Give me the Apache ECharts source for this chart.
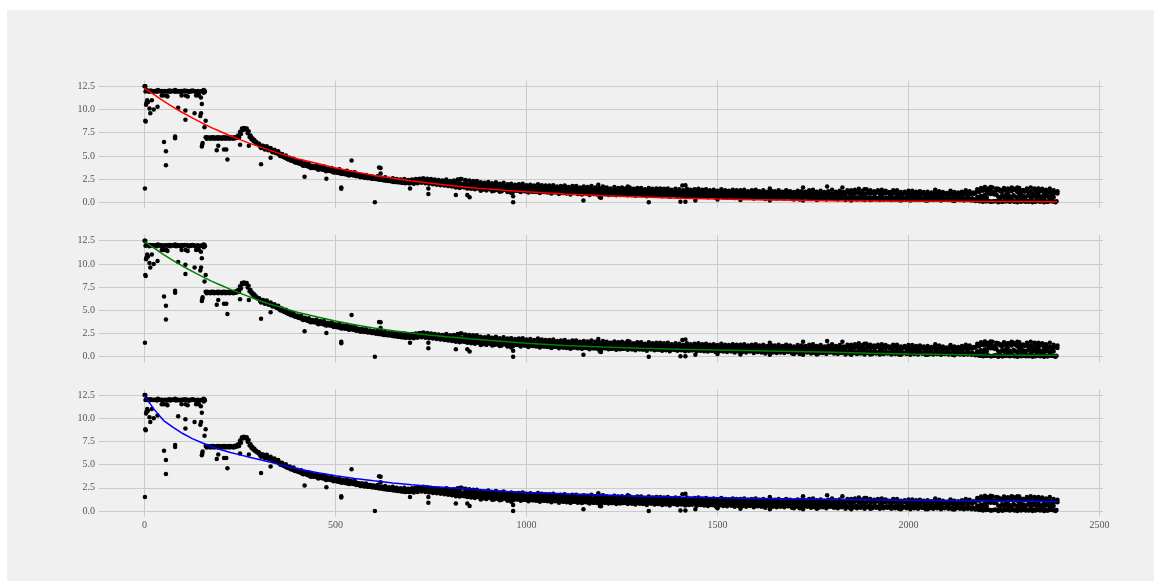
<!DOCTYPE html>
<html>
<head>
<meta charset="utf-8">
<script src="https://cdn.jsdelivr.net/npm/echarts@6/dist/echarts.min.js"></script>
<style>
  html, body { margin: 0; padding: 0; background: #ffffff; width: 1154px; height: 581px; overflow: hidden; }
  #frame { position: absolute; left: 7px; top: 10px; right: 0; bottom: 0; background: #f0f0f0; }
  #chart { position: absolute; left: 0; top: 0; width: 1154px; height: 581px; }
</style>
</head>
<body>
<div id="frame"></div>
<div id="chart"></div>
<script>
// Measurements sampled every STEP time units; upper core row at x = i*STEP
const STEP = 5;
const coreUpper = [
  12.5, 12.1, 12.0, 12.05, 12.0, 11.95, 12.0, 12.1, 12.0, 12.0, 11.5, 11.95, 12.0, 12.05, 12.0, 12.0, 12.1, 12.0, 11.95, 12.0,
  12.0, 12.05, 12.0, 11.9, 12.0, 12.05, 12.0, 11.5, 12.0, 11.9, 12.0, 12.1, 7.0, 7.0, 6.95, 7.0, 7.0, 6.95, 7.0, 7.0,
  6.95, 7.0, 7.0, 6.95, 7.0, 7.0, 6.95, 7.0, 7.05, 7.2, 7.6, 7.95, 8.0, 7.85, 7.45, 7.05, 6.8, 6.6, 6.45, 6.3,
  6.2, 6.1, 6.05, 5.95, 5.9, 5.8, 5.75, 5.6, 5.55, 5.45, 5.3, 5.2, 5.05, 4.95, 4.85, 4.75, 4.7, 4.55, 4.5, 4.4,
  4.35, 4.25, 4.2, 4.15, 4.05, 4.0, 3.95, 3.95, 3.85, 3.8, 3.8, 3.75, 3.7, 3.65, 3.65, 3.6, 3.55, 3.5, 3.45, 3.45,
  3.4, 3.35, 3.3, 3.3, 3.25, 3.2, 3.2, 3.15, 3.1, 3.1, 3.05, 3.05, 3.0, 2.95, 2.95, 2.9, 2.85, 2.8, 2.8, 2.75,
  2.7, 2.65, 2.65, 2.6, 2.55, 2.55, 2.5, 2.45, 2.45, 2.4, 2.4, 2.35, 2.35, 2.3, 2.3, 2.3, 2.25, 2.25, 2.3, 2.3,
  2.35, 2.4, 2.4, 2.45, 2.45, 2.5, 2.45, 2.4, 2.4, 2.35, 2.3, 2.3, 2.25, 2.2, 2.25, 2.2, 2.15, 2.2, 2.15, 2.1,
  2.1, 2.15, 2.05, 2.1, 2.0, 2.05, 2.0, 1.95, 2.05, 1.95, 1.9, 2.0, 1.9, 1.95, 1.85, 1.9, 1.85, 1.9, 1.8, 1.85,
  1.8, 1.85, 1.75, 1.8, 1.8, 1.75, 1.7, 1.8, 1.75, 1.7, 1.7, 1.75, 1.65, 1.7, 1.7, 1.65, 1.6, 1.7, 1.65, 1.6,
  1.6, 1.65, 1.55, 1.6, 1.6, 1.55, 1.5, 1.6, 1.55, 1.5, 1.55, 1.5, 1.45, 1.55, 1.5, 1.45, 1.5, 1.45, 1.4, 1.5,
  1.45, 1.4, 1.45, 1.4, 1.45, 1.35, 1.4, 1.45, 1.35, 1.4, 1.35, 1.4, 1.3, 1.4, 1.35, 1.3, 1.35, 1.3, 1.35, 1.3,
  1.3, 1.35, 1.25, 1.3, 1.3, 1.25, 1.3, 1.25, 1.2, 1.3, 1.25, 1.2, 1.25, 1.3, 1.2, 1.25, 1.2, 1.25, 1.2, 1.2,
  1.25, 1.2, 1.15, 1.2, 1.25, 1.15, 1.2, 1.15, 1.2, 1.1, 1.2, 1.15, 1.1, 1.2, 1.15, 1.1, 1.15, 1.1, 1.15, 1.1,
  1.1, 1.15, 1.05, 1.1, 1.15, 1.05, 1.1, 1.05, 1.1, 1.0, 1.1, 1.05, 1.1, 1.0, 1.05, 1.1, 1.0, 1.05, 1.0, 1.05,
  1.05, 1.0, 1.1, 1.0, 1.05, 0.95, 1.05, 1.0, 1.1, 1.0, 0.95, 1.05, 1.0, 0.95, 1.05, 1.0, 0.95, 1.0, 1.05, 0.95,
  1.0, 0.95, 1.05, 0.95, 1.0, 0.9, 1.0, 1.05, 0.95, 0.9, 1.0, 0.95, 1.05, 0.9, 1.0, 0.95, 0.9, 1.0, 0.95, 0.9,
  0.95, 1.0, 0.9, 0.95, 1.05, 0.9, 0.95, 0.85, 1.0, 0.9, 0.95, 0.9, 1.0, 0.85, 0.95, 0.9, 1.0, 0.9, 0.85, 0.95,
  0.9, 0.95, 1.05, 0.9, 0.85, 1.0, 0.95, 0.9, 1.1, 0.95, 0.85, 0.9, 1.0, 1.15, 0.95, 0.9, 1.05, 0.85, 0.95, 1.1,
  0.95, 1.05, 0.9, 1.0, 1.15, 0.9, 0.85, 1.0, 0.95, 1.1, 0.9, 0.85, 0.95, 1.05, 0.9, 0.85, 0.95, 0.9, 1.0, 0.85,
  0.9, 0.85, 0.95, 0.8, 0.9, 0.85, 0.8, 0.95, 0.85, 0.8, 0.9, 0.85, 0.8, 0.9, 0.85, 0.8, 0.9, 0.85, 0.8, 0.85,
  0.85, 0.8, 0.9, 0.8, 0.85, 0.9, 0.8, 0.85, 0.8, 0.9, 0.85, 0.8, 0.95, 0.85, 0.9, 1.0, 1.2, 1.1, 1.3, 1.25,
  1.35, 1.2, 1.5, 1.3, 1.15, 1.05, 1.3, 1.45, 1.2, 1.1, 1.35, 1.25, 1.0, 1.4, 1.2, 1.5, 1.3, 1.1, 1.25, 1.0,
  1.3, 1.15, 1.4, 1.05, 1.2, 0.95, 1.35, 1.1, 0.9, 1.2, 1.3, 1.0, 1.15, 0.95, 1.1, 1.0, 0.9, 1.05, 0.95
];
// lower core row at x = i*STEP + STEP/2
const coreLower = [
  11.95, 12.0, 11.9, 12.0, 11.95, 12.0, 11.9, 12.0, 11.95, 11.9, 12.0, 11.5, 11.95, 11.9, 12.0, 11.95, 11.9, 12.0, 11.9, 11.95,
  11.95, 11.5, 12.0, 11.9, 11.95, 12.0, 11.9, 11.95, 11.5, 11.3, 11.95, 12.0, 6.85, 6.9, 6.85, 6.9, 6.85, 6.9, 6.85, 6.9,
  6.85, 6.9, 6.85, 6.9, 6.85, 6.9, 6.85, 6.9, 6.95, 7.0, 7.35, 7.8, 7.95, 7.95, 7.65, 7.2, 6.9, 6.7, 6.5, 6.3,
  6.0, 5.95, 5.85, 5.8, 5.7, 5.65, 5.55, 5.5, 5.35, 5.25, 5.15, 5.0, 4.9, 4.8, 4.7, 4.6, 4.5, 4.45, 4.35, 4.3,
  4.2, 4.15, 4.05, 4.0, 3.95, 3.85, 3.8, 3.75, 3.7, 3.7, 3.6, 3.6, 3.55, 3.5, 3.45, 3.4, 3.4, 3.35, 3.3, 3.25,
  3.2, 3.15, 3.15, 3.1, 3.05, 3.0, 3.0, 2.95, 2.95, 2.9, 2.85, 2.85, 2.8, 2.75, 2.75, 2.7, 2.65, 2.65, 2.6, 2.55,
  2.55, 2.5, 2.45, 2.45, 2.4, 2.35, 2.35, 2.3, 2.3, 2.25, 2.2, 2.2, 2.15, 2.15, 2.1, 2.1, 2.05, 2.1, 2.05, 2.1,
  2.15, 2.2, 2.25, 2.3, 2.35, 2.3, 2.25, 2.2, 2.2, 2.15, 2.1, 2.05, 2.05, 2.0, 2.0, 1.95, 1.95, 1.9, 1.85, 1.9,
  1.8, 1.75, 1.85, 1.7, 1.75, 1.65, 1.7, 1.6, 1.7, 1.55, 1.65, 1.6, 1.5, 1.6, 1.55, 1.45, 1.6, 1.5, 1.45, 1.55,
  1.5, 1.4, 1.5, 1.35, 1.45, 1.4, 1.3, 1.45, 1.35, 1.3, 1.4, 1.3, 1.35, 1.25, 1.35, 1.3, 1.2, 1.3, 1.25, 1.2,
  1.25, 1.2, 1.3, 1.15, 1.2, 1.25, 1.1, 1.2, 1.15, 1.1, 1.2, 1.1, 1.15, 1.05, 1.15, 1.1, 1.05, 1.15, 1.1, 1.0,
  1.1, 1.05, 1.0, 1.1, 1.0, 1.05, 0.95, 1.05, 1.0, 0.95, 1.05, 1.0, 0.9, 1.0, 0.95, 0.9, 1.0, 0.95, 0.9, 0.95,
  0.95, 0.9, 1.0, 0.9, 0.85, 0.95, 0.9, 0.85, 0.95, 0.9, 0.85, 0.9, 0.95, 0.85, 0.9, 0.8, 0.9, 0.85, 0.9, 0.8,
  0.85, 0.9, 0.8, 0.85, 0.9, 0.8, 0.85, 0.75, 0.85, 0.8, 0.85, 0.75, 0.8, 0.85, 0.75, 0.8, 0.85, 0.75, 0.8, 0.75,
  0.8, 0.75, 0.85, 0.7, 0.8, 0.75, 0.7, 0.8, 0.75, 0.7, 0.8, 0.7, 0.75, 0.8, 0.7, 0.75, 0.7, 0.65, 0.75, 0.7,
  0.7, 0.75, 0.65, 0.7, 0.75, 0.65, 0.7, 0.6, 0.7, 0.75, 0.65, 0.7, 0.6, 0.7, 0.65, 0.6, 0.7, 0.65, 0.6, 0.7,
  0.65, 0.6, 0.7, 0.55, 0.65, 0.6, 0.7, 0.55, 0.65, 0.6, 0.55, 0.65, 0.6, 0.7, 0.55, 0.6, 0.65, 0.55, 0.6, 0.65,
  0.6, 0.55, 0.65, 0.5, 0.6, 0.55, 0.65, 0.6, 0.5, 0.6, 0.55, 0.65, 0.5, 0.6, 0.55, 0.5, 0.6, 0.55, 0.6, 0.5,
  0.55, 0.6, 0.5, 0.55, 0.45, 0.6, 0.5, 0.55, 0.45, 0.6, 0.5, 0.4, 0.55, 0.5, 0.45, 0.55, 0.5, 0.4, 0.5, 0.55,
  0.5, 0.45, 0.55, 0.4, 0.5, 0.45, 0.55, 0.4, 0.5, 0.45, 0.4, 0.5, 0.45, 0.55, 0.4, 0.45, 0.5, 0.4, 0.45, 0.5,
  0.45, 0.5, 0.4, 0.45, 0.5, 0.4, 0.45, 0.35, 0.45, 0.5, 0.4, 0.45, 0.35, 0.45, 0.4, 0.5, 0.4, 0.45, 0.35, 0.4,
  0.45, 0.4, 0.35, 0.45, 0.4, 0.5, 0.35, 0.4, 0.45, 0.35, 0.4, 0.45, 0.35, 0.4, 0.3, 0.25, 0.2, 0.15, 0.1, 0.15,
  0.1, 0.15, 0.1, 0.05, 0.1, 0.15, 0.1, 0.2, 0.1, 0.05, 0.15, 0.1, 0.2, 0.1, 0.15, 0.05, 0.1, 0.2, 0.1, 0.15,
  0.1, 0.05, 0.15, 0.1, 0.2, 0.1, 0.05, 0.15, 0.1, 0.2, 0.1, 0.15, 0.05, 0.1, 0.15, 0.1, 0.05, 0.1
];
// upper edge of the spread, x = SPREAD_START + i*SPREAD_STEP
const SPREAD_START = 300;
const SPREAD_STEP = 10;
const spreadHigh = [
  6.3, 6.1, 6.05, 5.85, 5.65, 5.5, 5.2, 5.05, 4.8, 4.7, 4.45, 4.4, 4.2, 4.15, 3.95, 4.0, 3.85, 3.85, 3.65, 3.7,
  3.5, 3.55, 3.35, 3.4, 3.25, 3.25,
  2.95, 2.9, 2.95, 2.8, 2.75, 2.8, 2.65, 2.7, 2.55, 2.6,
  2.5, 2.45, 2.5, 2.4, 2.45, 2.5, 2.55, 2.6, 2.55, 2.5,
  2.45, 2.4, 2.35, 2.45, 2.3, 2.35, 2.4, 2.5, 2.3, 2.35,
  2.2, 2.3, 2.15, 2.1, 2.2, 2.05, 2.15, 2.0, 2.1, 1.95,
  2.0, 1.9, 1.95, 2.0, 1.85, 1.9, 1.8, 1.95, 1.85, 1.75,
  1.8, 1.85, 1.7, 1.75, 1.8, 1.65, 1.75, 1.7, 1.6, 1.7,
  1.65, 1.75, 1.6, 1.55, 1.7, 1.6, 1.5, 1.65, 1.55, 1.6,
  1.5, 1.6, 1.45, 1.55, 1.5, 1.4, 1.55, 1.45, 1.5, 1.4,
  1.45, 1.5, 1.35, 1.45, 1.4, 1.3, 1.45, 1.35, 1.4, 1.3,
  1.35, 1.4, 1.3, 1.35, 1.25, 1.4, 1.3, 1.25, 1.35, 1.3,
  1.25, 1.35, 1.2, 1.3, 1.25, 1.2, 1.3, 1.15, 1.25, 1.2,
  1.3, 1.15, 1.25, 1.2, 1.1, 1.25, 1.2, 1.15, 1.3, 1.2,
  1.15, 1.25, 1.1, 1.2, 1.35, 1.15, 1.25, 1.1, 1.3, 1.2,
  1.35, 1.15, 1.25, 1.4, 1.1, 1.2, 1.3, 1.15, 1.25, 1.1,
  1.2, 1.3, 1.1, 1.15, 1.25, 1.05, 1.15, 1.2, 1.1, 1.15,
  1.05, 1.15, 1.2, 1.1, 1.0, 1.15, 1.1, 1.05, 1.15, 1.1,
  1.2, 1.05, 1.4, 1.55, 1.65, 1.45, 1.6, 1.5, 1.35, 1.55,
  1.45, 1.6, 1.4, 1.55, 1.3, 1.5, 1.6, 1.4, 1.5, 1.45,
  1.35, 1.5, 1.3, 1.2
];
// lower edge of the spread, x = SPREAD_START + SPREAD_STEP/2 + i*SPREAD_STEP
const spreadLow = [
  5.85, 5.7, 5.6, 5.4, 5.3, 5.0, 4.9, 4.65, 4.55, 4.3, 4.2, 3.95, 3.95, 3.7, 3.75, 3.5, 3.55, 3.35, 3.4, 3.2,
  3.2, 3.05, 3.1, 2.9, 2.95, 2.8,
  2.7, 2.65, 2.6, 2.55, 2.5, 2.45, 2.4, 2.35, 2.3, 2.25,
  2.2, 2.15, 2.1, 2.05, 2.0, 2.05, 2.1, 2.05, 2.0, 1.95,
  1.9, 1.85, 1.8, 1.75, 1.7, 1.6, 1.55, 1.65, 1.5, 1.45,
  1.4, 1.5, 1.35, 1.3, 1.4, 1.25, 1.3, 1.2, 1.35, 1.2,
  1.15, 1.25, 1.1, 1.2, 1.05, 1.15, 1.1, 1.0, 1.1, 1.05,
  0.95, 1.05, 0.9, 1.0, 0.95, 0.85, 1.0, 0.9, 0.85, 0.95,
  0.8, 0.9, 0.85, 0.75, 0.9, 0.8, 0.85, 0.75, 0.8, 0.85,
  0.75, 0.8, 0.7, 0.8, 0.75, 0.65, 0.8, 0.7, 0.75, 0.65,
  0.7, 0.6, 0.75, 0.65, 0.7, 0.6, 0.65, 0.7, 0.55, 0.65,
  0.6, 0.55, 0.65, 0.5, 0.6, 0.55, 0.5, 0.6, 0.45, 0.55,
  0.5, 0.45, 0.55, 0.4, 0.5, 0.45, 0.35, 0.5, 0.45, 0.4,
  0.45, 0.4, 0.5, 0.35, 0.45, 0.3, 0.4, 0.45, 0.35, 0.4,
  0.35, 0.4, 0.3, 0.45, 0.35, 0.3, 0.4, 0.25, 0.35, 0.4,
  0.3, 0.35, 0.25, 0.4, 0.3, 0.35, 0.25, 0.3, 0.35, 0.25,
  0.3, 0.25, 0.35, 0.3, 0.2, 0.3, 0.25, 0.35, 0.2, 0.3,
  0.25, 0.3, 0.2, 0.3, 0.25, 0.2, 0.3, 0.25, 0.2, 0.25,
  0.2, 0.15, 0.1, 0.05, 0.1, 0.05, 0.1, 0.0, 0.05, 0.1,
  0.05, 0.1, 0.0, 0.05, 0.1, 0.05, 0.0, 0.1, 0.05, 0.0,
  0.05, 0.1, 0.0
];
// middle row of the last stretch, x = TAIL_START + i*STEP
const TAIL_START = 2180;
const tailMiddle = [
  0.6, 0.5, 0.7, 0.45, 0.8, 0.55, 0.95, 0.9, 0.95, 0.85, 0.85, 0.6, 0.45, 0.7, 0.55, 0.8, 0.5, 0.65, 0.4, 0.75,
  0.6, 0.5, 0.85, 0.55, 0.7, 0.45, 0.65, 0.8, 0.5, 0.6, 0.75, 0.45, 0.7, 0.55, 0.65, 0.5, 0.8, 0.6, 0.45, 0.7, 0.55
];
// scattered readings away from the main trend, [time, value]
const strayPoints = [
  [1, 1.5], [2, 8.8], [3, 8.7], [4, 10.5], [5, 10.7], [7, 11.0], [9, 10.8], [13, 10.1], [15, 9.6], [19, 11.0],
  [24, 10.0], [34, 10.3], [51, 6.5], [56, 5.5], [56, 4.0], [80, 7.1], [80, 6.9], [88, 10.2], [107, 8.9], [107, 9.9],
  [131, 9.6], [146, 9.3], [148, 9.6], [150, 10.6], [150, 6.0], [151, 6.2], [152, 6.4], [157, 8.1], [160, 8.8],
  [2, 12.5], [45, 11.5], [60, 11.4], [97, 11.5], [113, 11.4], [140, 11.6], [155, 11.8], [158, 11.9],
  [189, 5.6], [193, 6.1], [208, 5.7], [214, 5.7], [217, 4.6], [250, 6.2], [273, 6.1], [305, 4.1], [330, 4.8],
  [419, 2.75], [476, 2.55], [515, 1.6], [515, 1.45], [542, 4.5], [603, 0.0], [614, 3.75], [618, 3.7], [618, 3.1],
  [695, 1.5], [743, 1.5], [743, 0.9], [815, 0.8], [820, 2.45], [827, 2.5], [845, 0.8], [851, 0.55], [965, 0.0],
  [965, 0.65], [1149, 0.2], [1188, 1.9], [1192, 0.55], [1195, 0.5], [1265, 1.7], [1320, 0.0], [1403, 0.05],
  [1416, 0.05], [1408, 1.8], [1416, 1.85], [1442, 0.2],
  [840, 2.4], [860, 2.3], [880, 1.25], [895, 1.3], [910, 1.2], [930, 1.15], [950, 1.1], [960, 1.0], [900, 2.1],
  [920, 2.0], [960, 1.95], [980, 1.9], [1050, 1.8], [1100, 1.7], [1130, 1.75],
  [1637, 1.5], [1637, 0.2], [1724, 1.6], [1724, 0.2], [1787, 1.7], [1827, 1.6], [1560, 1.3], [1600, 1.35],
  [1680, 1.3], [1750, 1.35], [1850, 1.3], [1870, 1.45], [1885, 1.4], [1900, 1.3], [1930, 1.35], [1960, 1.3],
  [2010, 1.25], [2070, 1.35], [2110, 1.25], [2150, 1.3], [2200, 1.6], [2215, 1.65], [2260, 1.45], [2285, 1.6],
  [2330, 1.5], [2340, 1.45], [2355, 1.3], [1500, 0.3], [1560, 0.25], [1700, 0.3], [1760, 0.25], [1850, 0.2],
  [1900, 0.25], [1980, 0.2], [2050, 0.2], [2120, 0.15], [1450, 1.45], [1350, 1.5], [1300, 1.55]
];

// fitted decay curves, sampled at fitX
const fitX = [0, 25, 50, 75, 100, 125, 150, 175, 200, 225, 250, 275, 300, 325, 350, 375, 400,
  450, 500, 550, 600, 650, 700, 750, 800, 850, 900, 950, 1000,
  1100, 1200, 1300, 1400, 1500, 1600, 1700, 1800, 1900, 2000, 2100, 2200, 2300, 2390];
const fitRed = [12.3, 11.6, 10.9, 10.25, 9.65, 9.1, 8.55, 8.05, 7.6, 7.15, 6.75, 6.35, 6.0, 5.65, 5.3, 5.0, 4.7,
  4.2, 3.7, 3.3, 2.9, 2.6, 2.3, 2.05, 1.8, 1.6, 1.42, 1.27, 1.13,
  0.89, 0.7, 0.56, 0.44, 0.35, 0.28, 0.23, 0.18, 0.15, 0.12, 0.1, 0.09, 0.08, 0.07];
const fitGreen = [12.4, 11.7, 11.0, 10.35, 9.75, 9.2, 8.65, 8.15, 7.7, 7.25, 6.85, 6.45, 6.05, 5.7, 5.4, 5.1, 4.8,
  4.3, 3.85, 3.45, 3.1, 2.8, 2.55, 2.32, 2.12, 1.93, 1.76, 1.6, 1.46,
  1.22, 1.04, 0.9, 0.8, 0.72, 0.64, 0.56, 0.47, 0.38, 0.3, 0.24, 0.19, 0.16, 0.15];
const fitBlue = [12.4, 10.95, 9.75, 9.0, 8.35, 7.8, 7.35, 6.95, 6.6, 6.3, 6.05, 5.8, 5.55, 5.3, 5.05, 4.8, 4.55,
  4.15, 3.8, 3.5, 3.25, 3.02, 2.82, 2.65, 2.5, 2.36, 2.23, 2.11, 2.0,
  1.85, 1.72, 1.6, 1.5, 1.42, 1.35, 1.3, 1.25, 1.2, 1.16, 1.12, 1.08, 1.04, 1.0];

const xTicks = [0, 500, 1000, 1500, 2000, 2500];
const yTicks = [0, 2.5, 5, 7.5, 10, 12.5];
const fitColors = ['#ff0000', '#008000', '#0000ff'];
const fits = [fitRed, fitGreen, fitBlue];

// assemble the scatter cloud
const cloud = [];
coreUpper.forEach((v, i) => cloud.push([i * STEP, v]));
coreLower.forEach((v, i) => cloud.push([i * STEP + STEP / 2, v]));
spreadHigh.forEach((v, i) => cloud.push([SPREAD_START + i * SPREAD_STEP, v]));
spreadLow.forEach((v, i) => cloud.push([SPREAD_START + SPREAD_STEP / 2 + i * SPREAD_STEP, v]));
tailMiddle.forEach((v, i) => cloud.push([TAIL_START + i * STEP, v]));
strayPoints.forEach(p => cloud.push(p));

const panelTops = [80.5, 234.9, 389.2];
const panelHeight = 127.6;
const labelFont = { fontFamily: 'Liberation Serif', fontSize: 10, color: '#555555' };

const grids = [], xAxes = [], yAxes = [], series = [];
panelTops.forEach((top, k) => {
  grids.push({ left: 98.9, width: 1004.2, top: top, height: panelHeight, containLabel: false });
  xAxes.push({
    type: 'value', gridIndex: k, min: -119.5, max: 2509.5,
    axisLine: { show: false },
    axisTick: { show: false, customValues: xTicks },
    axisLabel: Object.assign({ show: k === 2, customValues: xTicks, margin: 4, formatter: v => String(v) }, labelFont),
    splitLine: { show: true, lineStyle: { color: '#cbcbcb', width: 1 } }
  });
  yAxes.push({
    type: 'value', gridIndex: k, min: -0.625, max: 13.125,
    axisLine: { show: false },
    axisTick: { show: false, customValues: yTicks },
    axisLabel: Object.assign({ customValues: yTicks, margin: 4, formatter: v => v.toFixed(1) }, labelFont),
    splitLine: { show: true, lineStyle: { color: '#cbcbcb', width: 1 } }
  });
  series.push({
    type: 'scatter', xAxisIndex: k, yAxisIndex: k, data: cloud,
    symbol: 'circle', symbolSize: 4.5, itemStyle: { color: '#000000', opacity: 1 },
    silent: true, z: 2
  });
  series.push({
    type: 'line', xAxisIndex: k, yAxisIndex: k,
    data: fitX.map((x, i) => [x, fits[k][i]]),
    smooth: false, showSymbol: false, symbol: 'none',
    lineStyle: { color: fitColors[k], width: 1.5 }, silent: true, z: 3
  });
});

const chart = echarts.init(document.getElementById('chart'), null, { renderer: 'canvas' });
chart.setOption({
  animation: false,
  backgroundColor: 'transparent',
  grid: grids, xAxis: xAxes, yAxis: yAxes, series: series
});
</script>
</body>
</html>
